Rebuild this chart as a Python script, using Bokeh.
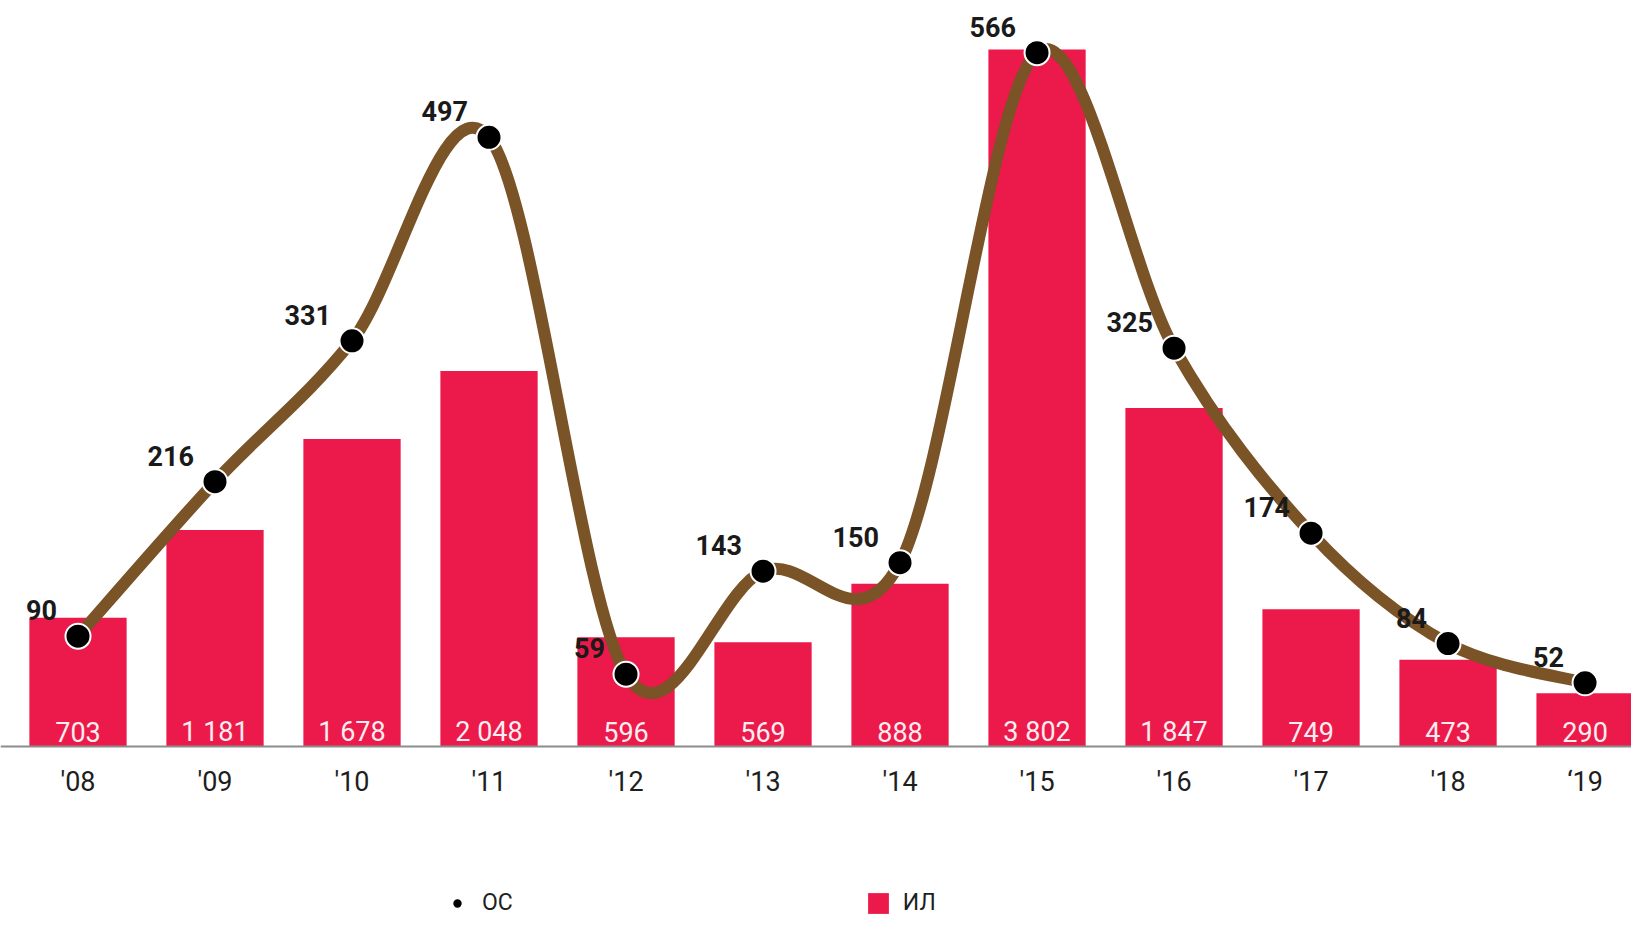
from bokeh.plotting import figure
from bokeh.models import Range1d, ColumnDataSource, FixedTicker, Legend, LegendItem
from bokeh.core.properties import value
from bokeh.embed import file_html
from bokeh.resources import INLINE

# ---- data ----
years = ["'08", "'09", "'10", "'11", "'12", "'13", "'14", "'15", "'16", "'17", "'18", "\u201819"]
il_values = [703, 1181, 1678, 2048, 596, 569, 888, 3802, 1847, 749, 473, 290]
oc_values = [90, 216, 331, 497, 59, 143, 150, 566, 325, 174, 84, 52]

FONT = "Roboto"
BAR_COLOR = "#EC1A4A"
LINE_COLOR = "#7A5327"

xs = list(range(len(years)))

bar_src = ColumnDataSource(dict(
    x=xs, top=il_values,
    label=[f"{v:,}".replace(",", " ") for v in il_values],
    zero=[0] * len(xs),
))
oc_src = ColumnDataSource(dict(x=xs, y=oc_values, label=[str(v) for v in oc_values]))

# smooth (Catmull-Rom style) bezier segments through the OC points
n = len(xs)
def pt(i):
    i = max(0, min(n - 1, i))
    return xs[i], oc_values[i]
seg = dict(x0=[], y0=[], x1=[], y1=[], cx0=[], cy0=[], cx1=[], cy1=[])
for i in range(n - 1):
    xp, yp = pt(i - 1)
    xa, ya = pt(i)
    xb, yb = pt(i + 1)
    xn, yn = pt(i + 2)
    seg["x0"].append(xa); seg["y0"].append(ya)
    seg["x1"].append(xb); seg["y1"].append(yb)
    seg["cx0"].append(xa + (xb - xp) / 6.0); seg["cy0"].append(ya + (yb - yp) / 6.0)
    seg["cx1"].append(xb - (xn - xa) / 6.0); seg["cy1"].append(yb - (yn - ya) / 6.0)
seg_src = ColumnDataSource(seg)

p = figure(width=1631, height=917,
           x_range=Range1d(-0.5657, 11.339), y_range=Range1d(-933, 4070),
           output_backend="svg", toolbar_location=None, y_axis_location=None,
           min_border_left=0, min_border_right=0, min_border_top=0, min_border_bottom=0,
           outline_line_color=None, background_fill_color="white", border_fill_color="white")
p.extra_y_ranges = {"oc": Range1d(-139.5, 608.6)}
p.grid.visible = False

bars = p.vbar(x="x", top="top", width=0.71, source=bar_src, fill_color=BAR_COLOR, line_color=None)
p.text(x="x", y="zero", text="label", source=bar_src, text_align="center",
       text_baseline="alphabetic", y_offset=-14, text_color="#FDEDF1",
       text_font=value(FONT), text_font_size="27px")

p.bezier(x0="x0", y0="y0", x1="x1", y1="y1", cx0="cx0", cy0="cy0", cx1="cx1", cy1="cy1",
         source=seg_src, line_color=LINE_COLOR, line_width=12, line_cap="round",
         y_range_name="oc")
sc = p.scatter(x="x", y="y", source=oc_src, size=25, fill_color="black",
               line_color="white", line_width=2, y_range_name="oc")
p.text(x="x", y="y", text="label", source=oc_src, y_range_name="oc",
       text_align="right", text_baseline="alphabetic", x_offset=-21, y_offset=-26,
       text_color="#1A1A1A", text_font=value(FONT), text_font_size="27px",
       text_font_style="bold")

ax = p.xaxis[0]
ax.fixed_location = 0
ax.ticker = FixedTicker(ticks=xs)
ax.major_label_overrides = {i: lab for i, lab in zip(xs, years)}
ax.major_tick_in = 0
ax.major_tick_out = 0
ax.minor_tick_line_color = None
ax.major_label_standoff = 20
ax.major_label_text_font = FONT
ax.major_label_text_font_size = "27px"
ax.major_label_text_color = "#1E1E1E"
ax.axis_line_color = "#8C8C8C"
ax.axis_line_width = 2

legend = Legend(items=[LegendItem(label="ОС", renderers=[sc]),
                       LegendItem(label="ИЛ", renderers=[bars])],
                orientation="horizontal", location=(444, 1), margin=0, padding=0,
                spacing=352, glyph_width=26, glyph_height=26, label_standoff=12,
                label_text_font=FONT, label_text_font_size="23px",
                label_text_color="#1E1E1E", border_line_color=None,
                background_fill_alpha=0)
p.add_layout(legend, "center")

open("out.html", "w").write(file_html(p, INLINE))
